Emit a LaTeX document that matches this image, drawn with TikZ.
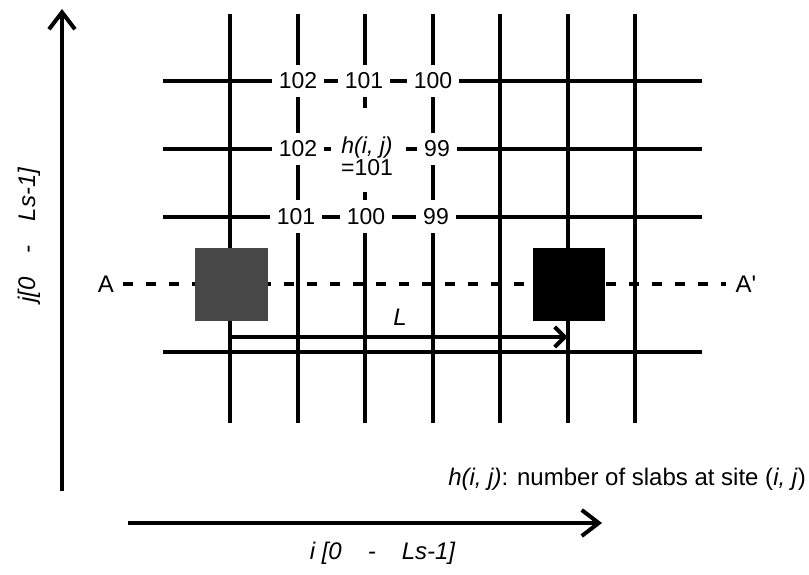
\documentclass[tikz,border=0pt]{standalone}
\usepackage{fontspec}
\setmainfont{Liberation Sans}
\usetikzlibrary{arrows.meta}
\begin{document}
\begin{tikzpicture}[x=1pt,y=-1pt,
  gridline/.style={line width=4pt},
  axisline/.style={line width=4pt,-{Straight Barb[length=17pt,width=26pt,line width=4pt]}},
  lab/.style={fill=white,inner xsep=7pt,inner ysep=8pt,font=\fontsize{23}{24}\selectfont},
  txt/.style={inner sep=0pt,font=\fontsize{24}{26}\selectfont},
  ]
\useasboundingbox (0,0) rectangle (809,575);
% grid
\foreach \i/\x in {1/230,2/297.5,3/365,4/432.5,5/500,6/567.5,7/635}{
  \coordinate (vt\i) at (\x,14);
  \coordinate (vb\i) at (\x,423);
  \draw[gridline] (vt\i) -- (vb\i);
}
\foreach \j/\y in {1/81,2/149,3/216.5,5/352}{
  \coordinate (hl\j) at (163,\y);
  \coordinate (hr\j) at (702,\y);
  \draw[gridline] (hl\j) -- (hr\j);
}
% labels
\node[lab] (a11) at (298,81) {102};
\node[lab] (a12) at (364,81) {101};
\node[lab] (a13) at (433,81) {100};
\node[lab] (a21) at (298,149) {102};
\node[lab] (a23) at (437,149) {99};
\node[lab] (a31) at (296,216.5) {101};
\node[lab] (a32) at (366,216.5) {100};
\node[lab] (a33) at (436,216.5) {99};
\fill[white] (331,108) rectangle (406,192);
\node[inner sep=0pt,align=center,font=\fontsize{23}{22}\selectfont] (hij) at (367,156) {\textit{h(i, j)}\\=101};
% A - A' line
\node[txt] (A) at (106,284) {A};
\node[txt] (Ap) at (746,284) {A\textquotesingle};
\draw[line width=4pt,dash pattern=on 10pt off 13pt] ([xshift=9pt]A.east) -- ([xshift=-10pt]Ap.west);
% squares
\node[fill=black!72,minimum width=73pt,minimum height=73pt,inner sep=0pt] (s1) at (231.5,284) {};
\node[fill=black,minimum width=72pt,minimum height=73pt,inner sep=0pt] (s2) at (569,284) {};
% L arrow
\coordinate (L1) at (230,337);
\coordinate (L2) at (567.5,337);
\draw[line width=4pt,-{Straight Barb[length=10pt,width=20pt,line width=4pt]}] (L1) -- (L2);
\node[txt,font=\fontsize{24}{26}\selectfont\itshape] (Ll) at (400,317) {L};
% axes
\coordinate (jb) at (62,491);
\coordinate (jt) at (62,9);
\draw[axisline] (jb) -- (jt);
\node[txt,rotate=90,font=\fontsize{24}{26}\selectfont\itshape] (jl) at (29,235) {j[0\hspace{24pt}-\hspace{24pt}Ls-1]};
\coordinate (il) at (128,523);
\coordinate (ir) at (602,523);
\draw[axisline] (il) -- (ir);
\node[txt,font=\fontsize{24}{26}\selectfont\itshape] (ilab) at (382.5,553) {i [0\hspace{26pt}-\hspace{26pt}Ls-1]};
\node[txt,anchor=east] (hdef) at (806,479) {\textit{h(i, j)}: number of slabs at site (\textit{i, j})};
\end{tikzpicture}
\end{document}
